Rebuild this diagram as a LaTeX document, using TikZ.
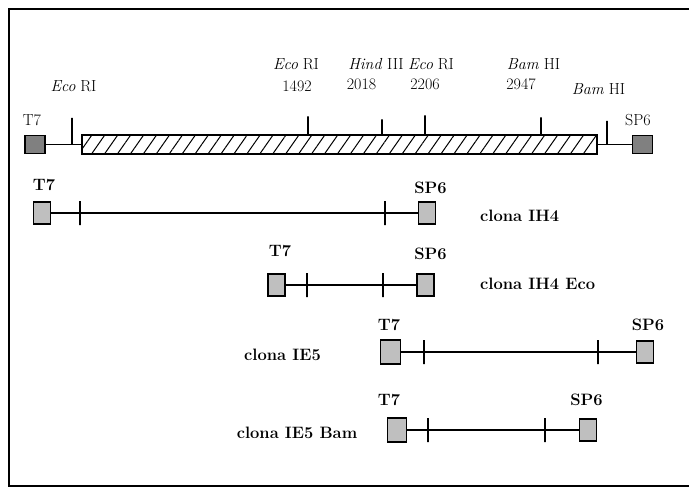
\documentclass[tikz,border=0pt]{standalone}
\usepackage{tikz}
\usetikzlibrary{patterns.meta}

\begin{document}
\begin{tikzpicture}[x=1pt,y=-1pt,
				site/.style={font=\fontsize{16}{18}\selectfont,inner sep=0pt},
				clone/.style={font=\fontsize{16.5}{19}\selectfont\bfseries,inner sep=0pt},
				prom/.style={draw,line width=1.2pt,fill=black!50,minimum width=20pt,minimum height=18pt,inner sep=0pt},
				cbox/.style={draw,line width=1.8pt,fill=black!25,minimum width=17pt,minimum height=22pt,inner sep=0pt},
				tick/.style={draw,line width=1.3pt,minimum width=0pt,minimum height=24pt,inner sep=0pt},
				uptick/.style={tick,anchor=south}]
				\useasboundingbox (0,0) rectangle (689,488);
				\draw[line width=1.8pt] (692,9) -- (9,9) -- (9,486) -- (692,486);
				\begin{scope}[every node/.style={site}]
				\node (ecoA) at (73.5,86) {\textit{Eco} RI};
				\node (ecoB) at (296,64) {\textit{Eco} RI};
				\node (posB) at (297,86) {1492};
				\node (hind) at (376,64) {\textit{Hind} III};
				\node (ecoC) at (431,64) {\textit{Eco} RI};
				\node (posH) at (361.5,84) {2018};
				\node (posC) at (425,84) {2206};
				\node (bamA) at (533.5,64) {\textit{Bam} HI};
				\node (posA) at (521,84) {2947};
				\node (bamB) at (598.5,89) {\textit{Bam} HI};
				\node (lT7) at (32,120) {T7};
				\node (lSP6) at (638,120) {SP6};
				\end{scope}
				\node[prom] (T7) at (35,144.5) {};
				\node[prom] (SP6) at (642.5,144.5) {};
				\node[draw,line width=1.2pt,minimum width=515pt,minimum height=19pt,inner sep=0pt,
				pattern={Lines[angle=55,distance=10.6pt,line width=1pt]}] (insert) at (339.5,144.5) {};
				\node[uptick,minimum height=26pt] (sEcoA) at (72,144.5) {};
				\node[uptick,minimum height=18pt] (sEcoB) at (308,135) {};
				\node[uptick,minimum height=15pt] (sHind) at (382,135) {};
				\node[uptick,minimum height=19pt] (sEcoC) at (425,135) {};
				\node[uptick,minimum height=17pt] (sBamA) at (541,135) {};
				\node[uptick,minimum height=23pt] (sBamB) at (607,144.5) {};
				\begin{scope}[every node/.style={clone}]
				\node (aT7) at (44,185) {T7};
				\node (aSP6) at (430.5,188) {SP6};
				\node[anchor=west] (aName) at (480,216) {clona IH4};
				\node (bT7) at (280,251) {T7};
				\node (bSP6) at (430.5,254) {SP6};
				\node[anchor=west] (bName) at (480,284) {clona IH4 Eco};
				\node (cT7) at (389,325) {T7};
				\node (cSP6) at (648,325) {SP6};
				\node (cName) at (282.5,355) {clona IE5};
				\node (dT7) at (389,400) {T7};
				\node (dSP6) at (586.5,400) {SP6};
				\node (dName) at (297,433) {clona IE5 Bam};
				\end{scope}
				\node[cbox] (aL) at (42,213) {};
				\node[cbox] (aR) at (427,213) {};
				\node[tick] (a1) at (80,213) {};
				\node[tick] (a2) at (385,213) {};
				\node[cbox] (bL) at (276.5,285) {};
				\node[cbox] (bR) at (425.5,285) {};
				\node[tick] (b1) at (307,285) {};
				\node[tick] (b2) at (383,285) {};
				\node[cbox,minimum width=20pt,minimum height=24pt] (cL) at (390.5,352) {};
				\node[cbox] (cR) at (645,352) {};
				\node[tick] (c1) at (424,352) {};
				\node[tick] (c2) at (598,352) {};
				\node[cbox,minimum width=19pt,minimum height=24pt] (dL) at (397,430) {};
				\node[cbox] (dR) at (588,430) {};
				\node[tick] (d1) at (428,430) {};
				\node[tick] (d2) at (545,430) {};
				\begin{scope}[every edge/.style={draw,line width=1.4pt}]
				\path (T7) edge (insert);
				\path (insert) edge (SP6);
				\path (aL) edge (aR);
				\path (bL) edge (bR);
				\path (cL) edge (cR);
				\path (dL) edge (dR);
				\end{scope}
\end{tikzpicture}
\end{document}
